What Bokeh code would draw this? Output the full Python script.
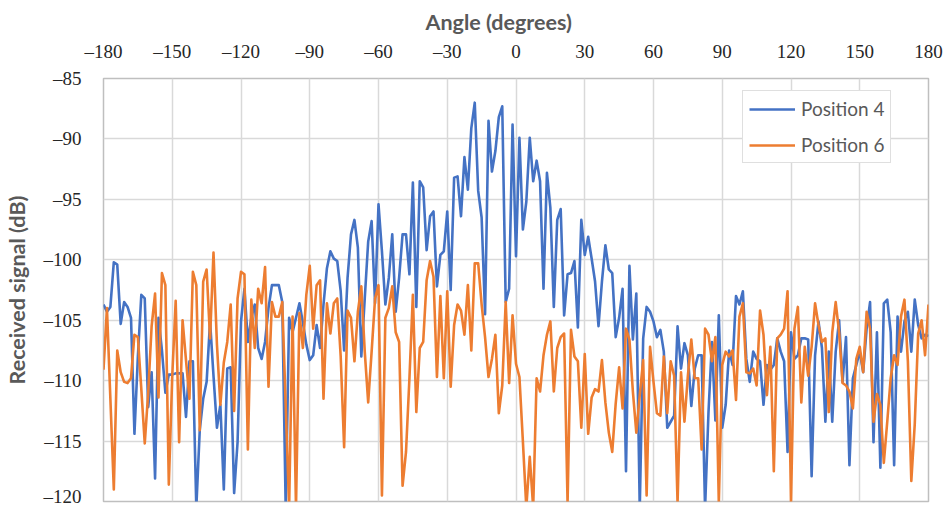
from bokeh.plotting import figure
from bokeh.models import (FixedTicker, CustomJSTickFormatter, Legend, LegendItem,
                          Range1d, ColumnDataSource, Title)
from bokeh.embed import file_html
from bokeh.resources import INLINE

# ---------------- data ----------------
angle_step = 1.5
angles = [-180 + angle_step * k for k in range(241)]

position_4 = [
    -103.7, -104.3, -103.9, -100.2, -100.4, -105.3, -103.5, -103.9, -104.8, -114.4,
    -108.0, -102.9, -103.2, -112.2, -109.3, -118.1, -104.8, -107.5, -111.0, -109.5,
    -109.5, -109.4, -109.4, -109.4, -113.0, -108.4, -108.4, -120.5, -114.1, -111.5,
    -110.1, -105.1, -109.6, -113.9, -112.0, -119.0, -109.0, -108.9, -119.3, -115.1,
    -105.1, -102.4, -106.8, -104.8, -103.7, -107.3, -108.2, -106.8, -104.0, -102.1,
    -102.1, -102.1, -103.5, -120.5, -104.8, -106.0, -104.8, -103.6, -105.2, -107.0,
    -108.3, -107.9, -105.4, -107.3, -103.7, -100.7, -99.3, -99.9, -100.1, -102.6,
    -107.5, -101.5, -97.9, -96.7, -99.0, -108.0, -103.2, -98.5, -96.8, -103.6,
    -95.4, -99.3, -103.7, -101.5, -97.9, -104.3, -101.5, -97.9, -97.9, -101.2,
    -93.6, -103.9, -93.5, -94.0, -99.2, -96.4, -96.0, -102.2, -99.6, -99.3,
    -96.0, -102.5, -93.2, -93.1, -96.4, -91.5, -94.2, -89.1, -87.0, -94.3,
    -96.5, -104.5, -88.5, -92.7, -91.0, -88.2, -87.3, -103.5, -102.4, -88.8,
    -99.7, -89.9, -97.5, -95.2, -89.9, -93.5, -91.8, -93.5, -102.4, -92.8,
    -95.7, -103.9, -96.7, -95.8, -104.6, -101.2, -101.1, -100.1, -105.6, -96.7,
    -99.6, -98.1, -99.9, -101.8, -105.5, -101.8, -98.8, -100.8, -101.1, -106.4,
    -104.8, -102.4, -117.5, -100.5, -106.6, -102.8, -120.6, -106.5, -103.9, -104.3,
    -105.1, -106.4, -105.8, -107.6, -113.9, -113.4, -112.9, -105.5, -109.0, -106.9,
    -107.9, -112.1, -109.0, -107.9, -107.9, -120.6, -112.6, -106.8, -113.3, -104.6,
    -113.9, -112.0, -107.5, -108.7, -103.0, -103.7, -102.6, -108.2, -110.1, -107.6,
    -108.2, -108.4, -112.0, -108.7, -109.1, -108.7, -106.5, -107.6, -108.4, -115.9,
    -106.0, -108.2, -107.9, -106.5, -106.5, -106.6, -117.9, -107.9, -105.1, -107.3,
    -113.4, -107.6, -113.4, -107.6, -105.0, -110.1, -106.4, -117.0, -109.8, -108.7,
    -107.6, -109.3, -105.7, -103.5, -115.1, -106.0, -117.2, -103.6, -103.3, -106.0,
    -117.0, -104.7, -107.6, -105.1, -104.3, -107.6, -103.3, -105.4, -106.5, -106.2,
    -106.3,
]

position_6 = [
    -109.1, -104.0, -111.5, -119.0, -107.5, -109.3, -110.1, -110.2, -109.8, -106.2,
    -106.4, -110.7, -115.2, -111.0, -105.5, -102.8, -111.4, -101.1, -102.1, -118.6,
    -109.6, -103.4, -115.1, -105.0, -108.3, -111.5, -101.0, -102.1, -114.1, -101.8,
    -100.8, -106.5, -99.4, -107.0, -112.0, -108.5, -106.8, -103.7, -112.5, -103.2,
    -101.0, -101.2, -115.7, -103.3, -107.3, -102.4, -103.6, -100.6, -110.5, -103.5,
    -104.7, -104.7, -103.5, -112.0, -120.5, -104.7, -120.5, -104.4, -107.3, -102.9,
    -100.5, -105.7, -102.1, -101.7, -111.5, -103.6, -106.1, -103.6, -103.2, -108.0,
    -115.5, -104.2, -104.8, -108.4, -104.3, -102.2, -107.6, -111.8, -107.6, -103.2,
    -102.1, -119.5, -104.8, -104.0, -102.2, -106.0, -106.8, -118.7, -115.9, -109.8,
    -102.9, -112.6, -107.3, -106.8, -101.7, -100.1, -101.4, -109.7, -103.0, -109.8,
    -102.6, -110.5, -105.4, -103.7, -104.2, -106.2, -102.1, -107.5, -100.3, -100.3,
    -103.7, -106.4, -109.7, -108.2, -106.2, -112.7, -110.4, -103.5, -110.2, -104.6,
    -108.6, -109.7, -115.0, -120.5, -116.3, -120.5, -109.8, -110.9, -107.9, -106.2,
    -105.1, -110.9, -107.3, -106.4, -106.1, -120.1, -105.8, -108.0, -108.4, -113.9,
    -107.8, -114.4, -111.4, -110.7, -110.9, -108.3, -111.8, -114.3, -115.9, -111.9,
    -108.9, -112.3, -105.7, -106.6, -110.9, -114.3, -111.2, -108.3, -119.5, -107.2,
    -110.1, -112.7, -112.9, -108.0, -112.7, -108.4, -109.6, -120.1, -109.3, -113.4,
    -109.6, -106.6, -109.8, -109.8, -115.7, -105.7, -106.2, -108.4, -106.4, -120.1,
    -108.7, -107.6, -108.0, -107.5, -111.6, -104.7, -103.6, -109.3, -109.4, -109.0,
    -110.4, -104.2, -106.2, -111.2, -107.2, -117.5, -106.5, -106.2, -105.7, -102.6,
    -120.1, -105.7, -103.9, -111.8, -107.2, -109.6, -107.2, -103.6, -105.4, -106.8,
    -106.5, -112.6, -106.0, -103.5, -106.0, -110.2, -110.4, -110.9, -112.3, -108.2,
    -107.2, -109.3, -104.3, -105.7, -113.4, -111.1, -112.0, -116.8, -113.4, -109.8,
    -107.9, -108.7, -104.7, -103.3, -108.4, -118.3, -113.6, -106.1, -105.0, -107.9,
    -103.7,
]

x_ticks = [-180, -150, -120, -90, -60, -30, 0, 30, 60, 90, 120, 150, 180]
y_ticks = [-120, -115, -110, -105, -100, -95, -90, -85]
series_names = ["Position 4", "Position 6"]
series_colors = ["#4472C4", "#ED7D31"]
x_title = "Angle (degrees)"
y_title = "Received signal (dB)"

# ---------------- figure ----------------
p = figure(width=946, height=506, title=None,
           x_range=Range1d(-180, 180), y_range=Range1d(-120, -85),
           x_axis_location="above",
           output_backend="svg", toolbar_location=None,
           min_border_left=103, min_border_right=18,
           min_border_top=78, min_border_bottom=5)

p.background_fill_color = "white"
p.border_fill_color = "white"
p.outline_line_color = "#bfbfbf"
p.outline_line_width = 1.5

src = ColumnDataSource(dict(angle=angles, p4=position_4, p6=position_6))
r4 = p.line("angle", "p4", source=src, line_color=series_colors[0], line_width=2.6,
            line_join="round")
r6 = p.line("angle", "p6", source=src, line_color=series_colors[1], line_width=2.6,
            line_join="round")

fmt = CustomJSTickFormatter(code="return tick < 0 ? '\\u2013' + Math.abs(tick) : '' + tick;")

for ax, ticks in ((p.xaxis[0], x_ticks), (p.yaxis[0], y_ticks)):
    ax.ticker = FixedTicker(ticks=ticks)
    ax.formatter = fmt
    ax.major_tick_line_color = None
    ax.minor_tick_line_color = None
    ax.axis_line_color = None
    ax.major_label_text_font = "Liberation Serif"
    ax.major_label_text_font_size = "19px"
    ax.major_label_text_color = "#262626"
    ax.axis_label_text_font = "Lato"
    ax.axis_label_text_font_style = "bold"
    ax.axis_label_text_font_size = "21.5px"
    ax.axis_label_text_color = "#595959"

p.yaxis.axis_label = y_title
p.xaxis.major_label_standoff = 11
p.yaxis.major_label_standoff = 16
p.yaxis.axis_label_standoff = 11

x_title_obj = Title(text=x_title, align="left", offset=322,
                    text_font="Lato", text_font_style="bold",
                    text_font_size="21.5px", text_color="#595959",
                    standoff=6)
p.add_layout(x_title_obj, "above")

p.xgrid.ticker = FixedTicker(ticks=x_ticks)
p.ygrid.ticker = FixedTicker(ticks=y_ticks)
for g in (p.xgrid, p.ygrid):
    g.grid_line_color = "#d9d9d9"
    g.grid_line_width = 1.5

legend = Legend(items=[LegendItem(label=series_names[0], renderers=[r4]),
                       LegendItem(label=series_names[1], renderers=[r6])],
                location=(639, 338))
legend.label_text_font = "Lato"
legend.label_text_font_size = "19px"
legend.label_text_color = "#595959"
legend.glyph_width = 46
legend.glyph_height = 20
legend.label_standoff = 6
legend.spacing = 13
legend.padding = 6
legend.margin = 0
legend.border_line_color = "#bfbfbf"
legend.border_line_width = 1.5
legend.background_fill_color = "white"
legend.background_fill_alpha = 1.0
p.add_layout(legend, "center")

open("out.html", "w").write(file_html(p, INLINE))
